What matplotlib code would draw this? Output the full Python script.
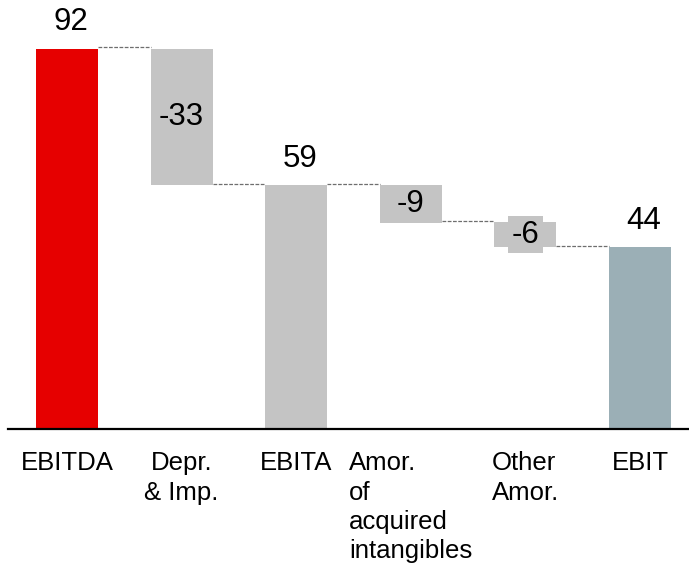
import matplotlib
matplotlib.use("Agg")
import matplotlib.pyplot as plt

plt.rcParams['font.family'] = ['Liberation Sans', 'DejaVu Sans']

categories = ["EBITDA", "Depr.\n& Imp.", "EBITA", "Amor.\nof\nacquired\nintangibles", "Other\nAmor.", "EBIT"]
values = [92, -33, 59, -9, -6, 44]
is_total = [True, False, True, False, False, True]
colors = ["#E60000", "#C4C4C4", "#C4C4C4", "#C4C4C4", "#C4C4C4", "#9BAFB6"]
label_align = ["center", "center", "center", "left", "left", "center"]

W, H = 689, 572
fig = plt.figure(figsize=(W / 100, H / 100), dpi=100)
ax = fig.add_axes([8 / W, (H - 429) / H, (W - 8) / W, 429 / H])

bar_w = 0.54
bottoms, heights = [], []
level = 0
for v, tot in zip(values, is_total):
    if tot:
        bottoms.append(0)
        heights.append(v)
        level = v
    else:
        new = level + v
        bottoms.append(min(level, new))
        heights.append(abs(v))
        level = new

xs = list(range(len(values)))
ax.bar(xs, heights, bottom=bottoms, width=bar_w, color=colors, zorder=2)

# connectors
for i in range(len(values) - 1):
    if is_total[i]:
        lvl = values[i]
    else:
        lvl = bottoms[i] if values[i] < 0 else bottoms[i] + heights[i]
    ax.plot([xs[i] + bar_w / 2, xs[i + 1] - bar_w / 2], [lvl + 0.4, lvl + 0.4],
            color="#6E6E6E", lw=0.9, ls=(0, (3, 1.2)), zorder=1)

# value labels
for i, (v, tot) in enumerate(zip(values, is_total)):
    if tot:
        ax.text(xs[i] + 0.03, v + 2.8, f"{v}", ha="center", va="bottom", fontsize=22.5, color="black")
    else:
        mid = bottoms[i] + heights[i] / 2
        ax.text(xs[i], mid, f"{v}", ha="center", va="center", fontsize=22.5, color="black",
                bbox=dict(facecolor=colors[i], edgecolor="none", pad=2.4), zorder=3)

# category labels
for i, c in enumerate(categories):
    ax.text(xs[i], -5.4, c, ha="center", va="top", multialignment=label_align[i],
            fontsize=18.5, linespacing=1.28, clip_on=False)

ax.set_xlim((8 - 67) / 114.6, (689 - 67) / 114.6)
ax.set_ylim(0, 429 / 4.13)
for s in ["top", "left", "right"]:
    ax.spines[s].set_visible(False)
ax.spines["bottom"].set_linewidth(1.6)
ax.set_xticks([])
ax.set_yticks([])

fig.savefig("out.png", dpi=100)
